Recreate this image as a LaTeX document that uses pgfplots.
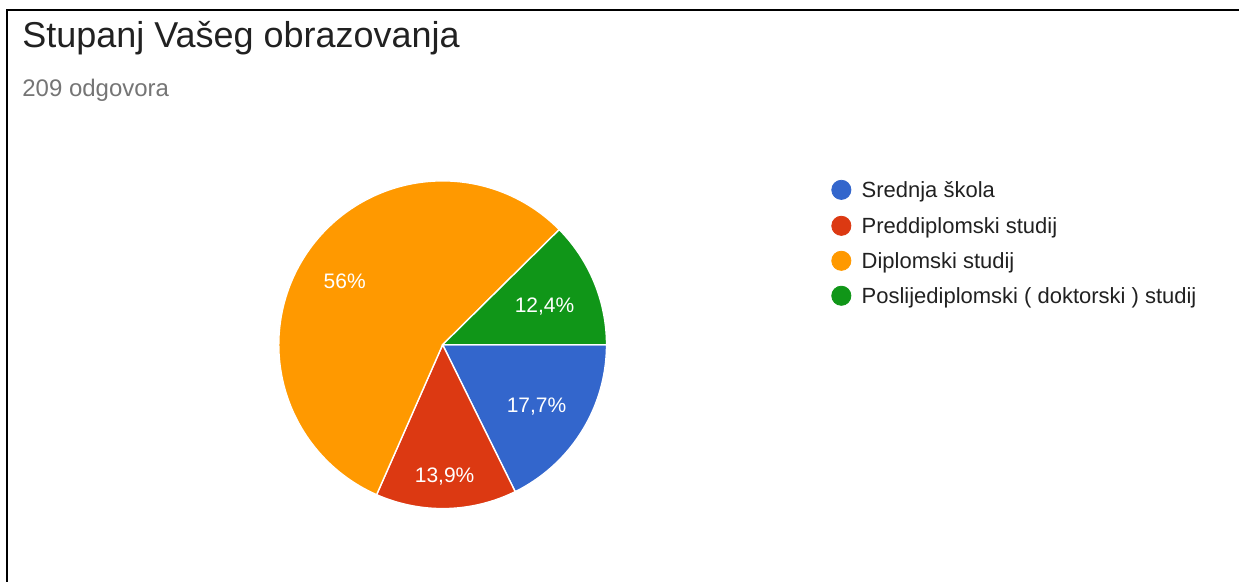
\documentclass[border=0pt]{standalone}
\usepackage{fontspec}
\setmainfont{Liberation Sans}
\usepackage{pgfplots}
\usepackage{pgfplotstable}
\pgfplotsset{compat=1.18}
\definecolor{gblue}{HTML}{3366CC}
\definecolor{gred}{HTML}{DC3912}
\definecolor{gorange}{HTML}{FF9900}
\definecolor{ggreen}{HTML}{109618}
\definecolor{subgrey}{HTML}{757575}
\definecolor{titlegrey}{HTML}{212121}
% shares in percent
\def\pA{17.7}\def\pB{13.9}\def\pC{56.0}\def\pD{12.4}
\pgfmathsetmacro{\aA}{\pA*3.6}
\pgfmathsetmacro{\aB}{\aA+\pB*3.6}
\pgfmathsetmacro{\aC}{\aB+\pC*3.6}
\pgfmathsetmacro{\aD}{\aC+\pD*3.6}
\def\cx{443}\def\cy{345}\def\R{164}
\begin{document}
\begin{tikzpicture}
\begin{axis}[scale only axis, width=620pt, height=291pt,
  xmin=0, xmax=1240, ymin=0, ymax=582, y dir=reverse,
  hide axis, clip=false]
\path[fill=white] (rel axis cs:0,0) rectangle (rel axis cs:1,1);
% frame
\draw[line width=1pt, black] (axis cs:7.5,582) -- (axis cs:7.5,10.5) -- (axis cs:1240,10.5);
% slices
\addplot[fill=gblue, draw=white, line width=0.7pt, domain=0:\aA, samples=60, variable=\t]
  ({\cx+\R*cos(t)},{\cy+\R*sin(t)}) -- (axis cs:\cx,\cy) -- cycle;
\addplot[fill=gred, draw=white, line width=0.7pt, domain=\aA:\aB, samples=60, variable=\t]
  ({\cx+\R*cos(t)},{\cy+\R*sin(t)}) -- (axis cs:\cx,\cy) -- cycle;
\addplot[fill=gorange, draw=white, line width=0.7pt, domain=\aB:\aC, samples=120, variable=\t]
  ({\cx+\R*cos(t)},{\cy+\R*sin(t)}) -- (axis cs:\cx,\cy) -- cycle;
\addplot[fill=ggreen, draw=white, line width=0.7pt, domain=\aC:\aD, samples=60, variable=\t]
  ({\cx+\R*cos(t)},{\cy+\R*sin(t)}) -- (axis cs:\cx,\cy) -- cycle;
% slice labels
\tikzset{lbl/.style={anchor=base, inner sep=0pt, white, font=\fontsize{10.5pt}{12pt}\selectfont}}
\node[lbl] at (axis cs:345,288.5) {56\%};
\node[lbl] at (axis cs:545,312.5) {12,4\%};
\node[lbl] at (axis cs:537,412.5) {17,7\%};
\node[lbl] at (axis cs:445,482.5) {13,9\%};
% title
\node[anchor=base west, inner sep=0pt, titlegrey, font=\fontsize{18pt}{20pt}\selectfont] at (axis cs:22,48) {Stupanj Vašeg obrazovanja};
\node[anchor=base west, inner sep=0pt, subgrey, font=\fontsize{12pt}{14pt}\selectfont] at (axis cs:22,97) {209 odgovora};
% legend
\addplot[only marks, mark=*, mark size=4.8pt, gblue] coordinates {(842,190)};
\addplot[only marks, mark=*, mark size=4.8pt, gred] coordinates {(842,226)};
\addplot[only marks, mark=*, mark size=4.8pt, gorange] coordinates {(842,261)};
\addplot[only marks, mark=*, mark size=4.8pt, ggreen] coordinates {(842,296)};
\tikzset{leg/.style={anchor=base west, inner sep=0pt, titlegrey, font=\fontsize{11pt}{13pt}\selectfont}}
\node[leg] at (axis cs:862,197.5) {Srednja škola};
\node[leg] at (axis cs:862,233.5) {Preddiplomski studij};
\node[leg] at (axis cs:862,268.5) {Diplomski studij};
\node[leg] at (axis cs:862,303.5) {Poslijediplomski ( doktorski ) studij};
\end{axis}
\end{tikzpicture}
\end{document}
